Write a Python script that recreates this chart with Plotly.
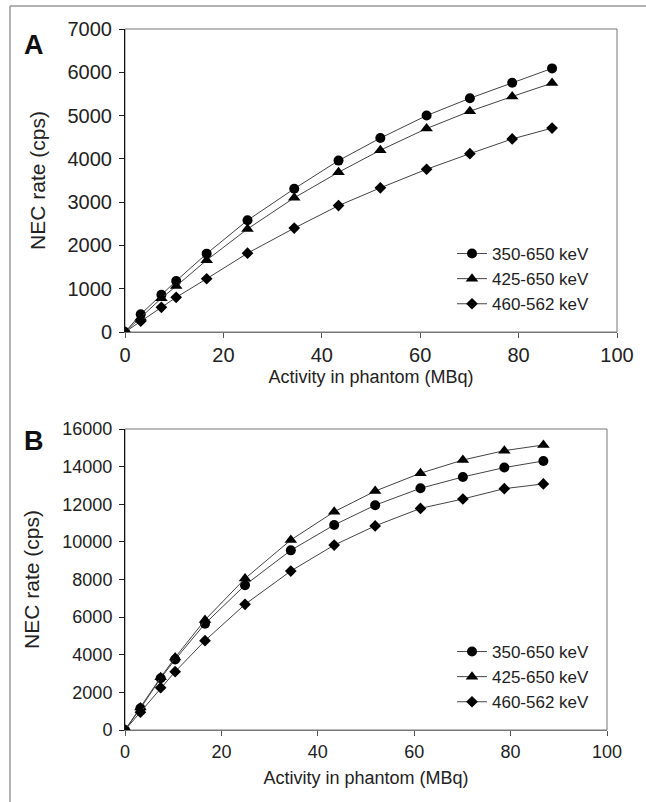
import plotly.graph_objects as go

# activity in phantom (MBq), shared by both panels
activity = [0, 3.2, 7.4, 10.4, 16.6, 24.9, 34.4, 43.4, 51.9, 61.3, 70.1, 78.7, 86.8]

# panel A: NEC rate (cps)
nec_a_350 = [0, 410, 860, 1180, 1810, 2580, 3310, 3960, 4480, 5000, 5400, 5760, 6090]
nec_a_425 = [0, 330, 780, 1060, 1660, 2380, 3100, 3690, 4200, 4700, 5100, 5440, 5750]
nec_a_460 = [0, 250, 570, 800, 1230, 1820, 2400, 2920, 3330, 3760, 4120, 4460, 4710]

# panel B: NEC rate (cps)
nec_b_350 = [0, 1150, 2750, 3750, 5650, 7700, 9550, 10900, 11950, 12850, 13450, 13950, 14300]
nec_b_425 = [0, 1200, 2800, 3850, 5850, 8050, 10100, 11600, 12700, 13650, 14350, 14850, 15150]
nec_b_460 = [0, 950, 2250, 3100, 4750, 6680, 8450, 9830, 10850, 11780, 12280, 12830, 13080]

names = ["350-650 keV", "425-650 keV", "460-562 keV"]
symbols = ["circle", "triangle-up", "diamond"]
sizes = [10, 11, 9]

W, H = 646, 802
FONT = "Liberation Sans, Arial, sans-serif"


def px_x(v):
    return v / W


def px_y(v):
    return 1 - v / H


fig = go.Figure()

for i, (name, ys) in enumerate(zip(names, [nec_a_350, nec_a_425, nec_a_460])):
    fig.add_trace(go.Scatter(
        x=activity, y=ys, name=name, mode="lines+markers",
        line=dict(color="#444444", width=1),
        marker=dict(symbol=symbols[i], size=sizes[i], color="black"),
        xaxis="x", yaxis="y", legend="legend"))

for i, (name, ys) in enumerate(zip(names, [nec_b_350, nec_b_425, nec_b_460])):
    fig.add_trace(go.Scatter(
        x=activity, y=ys, name=name, mode="lines+markers",
        line=dict(color="#444444", width=1),
        marker=dict(symbol=symbols[i], size=sizes[i], color="black"),
        xaxis="x2", yaxis="y2", legend="legend2"))

xcommon = dict(
    range=[0, 100], dtick=20, ticks="outside", ticklen=5, tickcolor="#555",
    showline=True, linecolor="#777", linewidth=1, showgrid=False, zeroline=False,
    automargin=False,
)
ycommon = dict(
    ticks="outside", ticklen=5, tickcolor="#222", ticklabelstandoff=3, tickformat="d",
    showline=True, linecolor="#111", linewidth=1, showgrid=False, zeroline=False,
    automargin=False,
    title=dict(text="NEC rate (cps)", font=dict(size=21, color="#222"), standoff=16),
)
xtitle = "Activity in phantom (MBq)"

fig.update_layout(
    width=W, height=H,
    margin=dict(l=0, r=0, t=0, b=0, autoexpand=False),
    paper_bgcolor="white", plot_bgcolor="white",
    font=dict(family=FONT, color="#222"),
    xaxis=dict(xcommon, domain=[px_x(125), px_x(617)], anchor="y",
               tickfont=dict(size=20),
               title=dict(text=xtitle, font=dict(size=18, color="#222"), standoff=5)),
    yaxis=dict(ycommon, domain=[px_y(332), px_y(29)], anchor="x",
               range=[0, 7000], dtick=1000, tickfont=dict(size=20)),
    xaxis2=dict(xcommon, domain=[px_x(125), px_x(607)], anchor="y2",
                tickfont=dict(size=18),
                title=dict(text=xtitle, font=dict(size=18, color="#222"), standoff=10)),
    yaxis2=dict(ycommon, domain=[px_y(730), px_y(429)], anchor="x2",
                range=[0, 16000], dtick=2000, tickfont=dict(size=18)),
    legend=dict(x=px_x(452), y=px_y(236), xanchor="left", yanchor="top",
                bgcolor="rgba(0,0,0,0)", font=dict(size=17), tracegroupgap=0),
    legend2=dict(x=px_x(452), y=px_y(634), xanchor="left", yanchor="top",
                 bgcolor="rgba(0,0,0,0)", font=dict(size=17), tracegroupgap=0),
)

# frame of each plot area (top and right edges)
for xa, ya in [("x", "y"), ("x2", "y2")]:
    fig.add_shape(type="rect", xref=xa + " domain", yref=ya + " domain",
                  x0=0, x1=1, y0=0, y1=1, line=dict(color="#777", width=1),
                  layer="below")

# page border (left and top)
fig.add_shape(type="line", xref="paper", yref="paper",
              x0=px_x(10), x1=1, y0=px_y(6), y1=px_y(6),
              line=dict(color="#999", width=1.5))
fig.add_shape(type="line", xref="paper", yref="paper",
              x0=px_x(10), x1=px_x(10), y0=px_y(6), y1=0,
              line=dict(color="#999", width=1.5))

# panel letters
for label, ypos in [("A", 45), ("B", 441)]:
    fig.add_annotation(text="<b>%s</b>" % label, xref="paper", yref="paper",
                       x=px_x(34), y=px_y(ypos), xanchor="center", yanchor="middle",
                       showarrow=False, font=dict(size=27, color="#111"))

# drop the default page margin so the figure sits at the window corner
fig.write_html("out.html", config={"displayModeBar": False},
               post_script="document.body.style.margin='0';")
